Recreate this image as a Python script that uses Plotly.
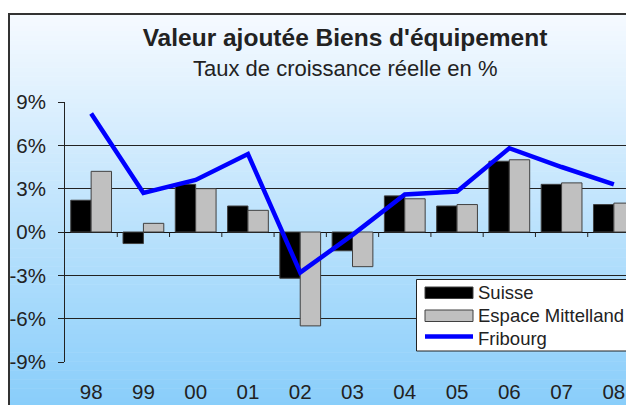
import plotly.graph_objects as go

years = ["98", "99", "00", "01", "02", "03", "04", "05", "06", "07", "08"]
suisse = [2.2, -0.8, 3.3, 1.8, -3.2, -1.3, 2.5, 1.8, 4.9, 3.3, 1.9]
espace = [4.2, 0.6, 3.0, 1.5, -6.5, -2.4, 2.3, 1.9, 5.0, 3.4, 2.0]
fribourg = [8.2, 2.7, 3.6, 5.4, -2.8, -0.2, 2.6, 2.8, 5.8, 4.5, 3.3]
y_ticks = [-9, -6, -3, 0, 3, 6, 9]
y_tick_labels = ["-9%", "-6%", "-3%", "0%", "3%", "6%", "9%"]
series_names = ["Suisse", "Espace Mittelland", "Fribourg"]

# the page puts the figure 8px from the window's top-left corner
OFF = 8
W, H = 634, 405
# plot area in window pixels: left 65, top 102, bottom 362, right 634
L = 65 - OFF
T = 102 - OFF
R = W - (634 - OFF)
B = H - (362 - OFF)
plot_w = W - L - R
plot_h = H - T - B

def px_x(p):
    return (p - OFF - L) / plot_w

def px_y(p):
    return (H - B - (p - OFF)) / plot_h

FONT = "Liberation Sans, Arial, sans-serif"
TXT = "#222222"

fig = go.Figure()
fig.add_trace(go.Bar(x=years, y=suisse, name=series_names[0],
                     marker=dict(color="#000000", line=dict(color="#404040", width=1))))
fig.add_trace(go.Bar(x=years, y=espace, name=series_names[1],
                     marker=dict(color="#c0c0c0", line=dict(color="#404040", width=1))))
fig.add_trace(go.Scatter(x=years, y=fribourg, name=series_names[2], mode="lines",
                         line=dict(color="#0000ff", width=4.5), cliponaxis=True))

shapes = []
# gradient background bands
top_px, bot_px = 13, 420
c0 = (246, 250, 255)
c1 = (133, 204, 250)
n = 90
for i in range(n):
    a = top_px + (bot_px - top_px) * i / n
    b = top_px + (bot_px - top_px) * (i + 1) / n
    t = (i + 0.5) / n
    col = tuple(round(c0[k] + (c1[k] - c0[k]) * t) for k in range(3))
    shapes.append(dict(type="rect", xref="paper", yref="paper", x0=px_x(8), x1=px_x(700),
                       y0=px_y(b + 0.5), y1=px_y(a), fillcolor="rgb(%d,%d,%d)" % col,
                       line=dict(width=0), layer="below"))
# outer frame
shapes.append(dict(type="rect", xref="paper", yref="paper", x0=px_x(9), x1=px_x(700),
                   y0=px_y(460), y1=px_y(14), line=dict(color="#333333", width=2),
                   fillcolor="rgba(0,0,0,0)", layer="below"))
# category tick marks on the zero line
for i in range(len(years) - 1):
    shapes.append(dict(type="line", xref="x", yref="y", x0=i + 0.5, x1=i + 0.5,
                       ysizemode="pixel", yanchor=0, y0=0, y1=-5,
                       line=dict(color="#222222", width=1)))

# legend box
shapes.append(dict(type="rect", xref="paper", yref="paper", x0=px_x(416.5), x1=px_x(629.5),
                   y0=px_y(351), y1=px_y(279.5), fillcolor="white",
                   line=dict(color="#222222", width=1), layer="above"))
shapes.append(dict(type="rect", xref="paper", yref="paper", x0=px_x(425), x1=px_x(473),
                   y0=px_y(298.5), y1=px_y(287), fillcolor="#000000",
                   line=dict(color="#404040", width=1), layer="above"))
shapes.append(dict(type="rect", xref="paper", yref="paper", x0=px_x(425), x1=px_x(473),
                   y0=px_y(321.5), y1=px_y(310), fillcolor="#c0c0c0",
                   line=dict(color="#404040", width=1), layer="above"))
shapes.append(dict(type="line", xref="paper", yref="paper", x0=px_x(425), x1=px_x(473),
                   y0=px_y(336.5), y1=px_y(336.5),
                   line=dict(color="#0000ff", width=4.5), layer="above"))

annotations = [dict(text="Taux de croissance réelle en %", xref="paper", yref="paper",
                    x=px_x(345), y=px_y(68), xanchor="center", yanchor="middle",
                    showarrow=False, font=dict(size=22, family=FONT, color=TXT))]
for name, yc in zip(series_names, [292, 315, 338]):
    annotations.append(dict(text=name, xref="paper", yref="paper", x=px_x(476), y=px_y(yc),
                            xanchor="left", yanchor="middle", showarrow=False,
                            font=dict(size=18.5, family=FONT, color=TXT)))

fig.update_layout(
    width=W, height=H,
    margin=dict(l=L, r=R, t=T, b=B, autoexpand=False),
    paper_bgcolor="white",
    plot_bgcolor="rgba(0,0,0,0)",
    font=dict(family=FONT, color=TXT),
    showlegend=False,
    barmode="group", bargap=0.22, bargroupgap=0,
    shapes=shapes,
    annotations=annotations,
    title=dict(text="<b>Valeur ajoutée Biens d'équipement</b>", x=(345 - OFF) / W,
               xanchor="center", y=1 - (37 - OFF) / H, yanchor="middle", yref="container",
               automargin=False, font=dict(size=24.5, family=FONT, color=TXT)),
    xaxis=dict(range=[-0.5, 10.5 - 6 / 52.3], showgrid=False, showline=False, ticks="",
               tickfont=dict(size=20.5), ticklabelstandoff=15, fixedrange=True,
               automargin=False),
    yaxis=dict(range=[-9, 9], tickvals=y_ticks, ticktext=y_tick_labels, showgrid=True,
               gridcolor="#222222", gridwidth=1, showline=True, linecolor="#222222",
               linewidth=1, ticks="outside", ticklen=6, tickcolor="#222222",
               zeroline=True, zerolinecolor="#111111", zerolinewidth=1,
               tickfont=dict(size=20.5), ticklabelstandoff=8, automargin=False),
)

fig.write_html("out.html")
